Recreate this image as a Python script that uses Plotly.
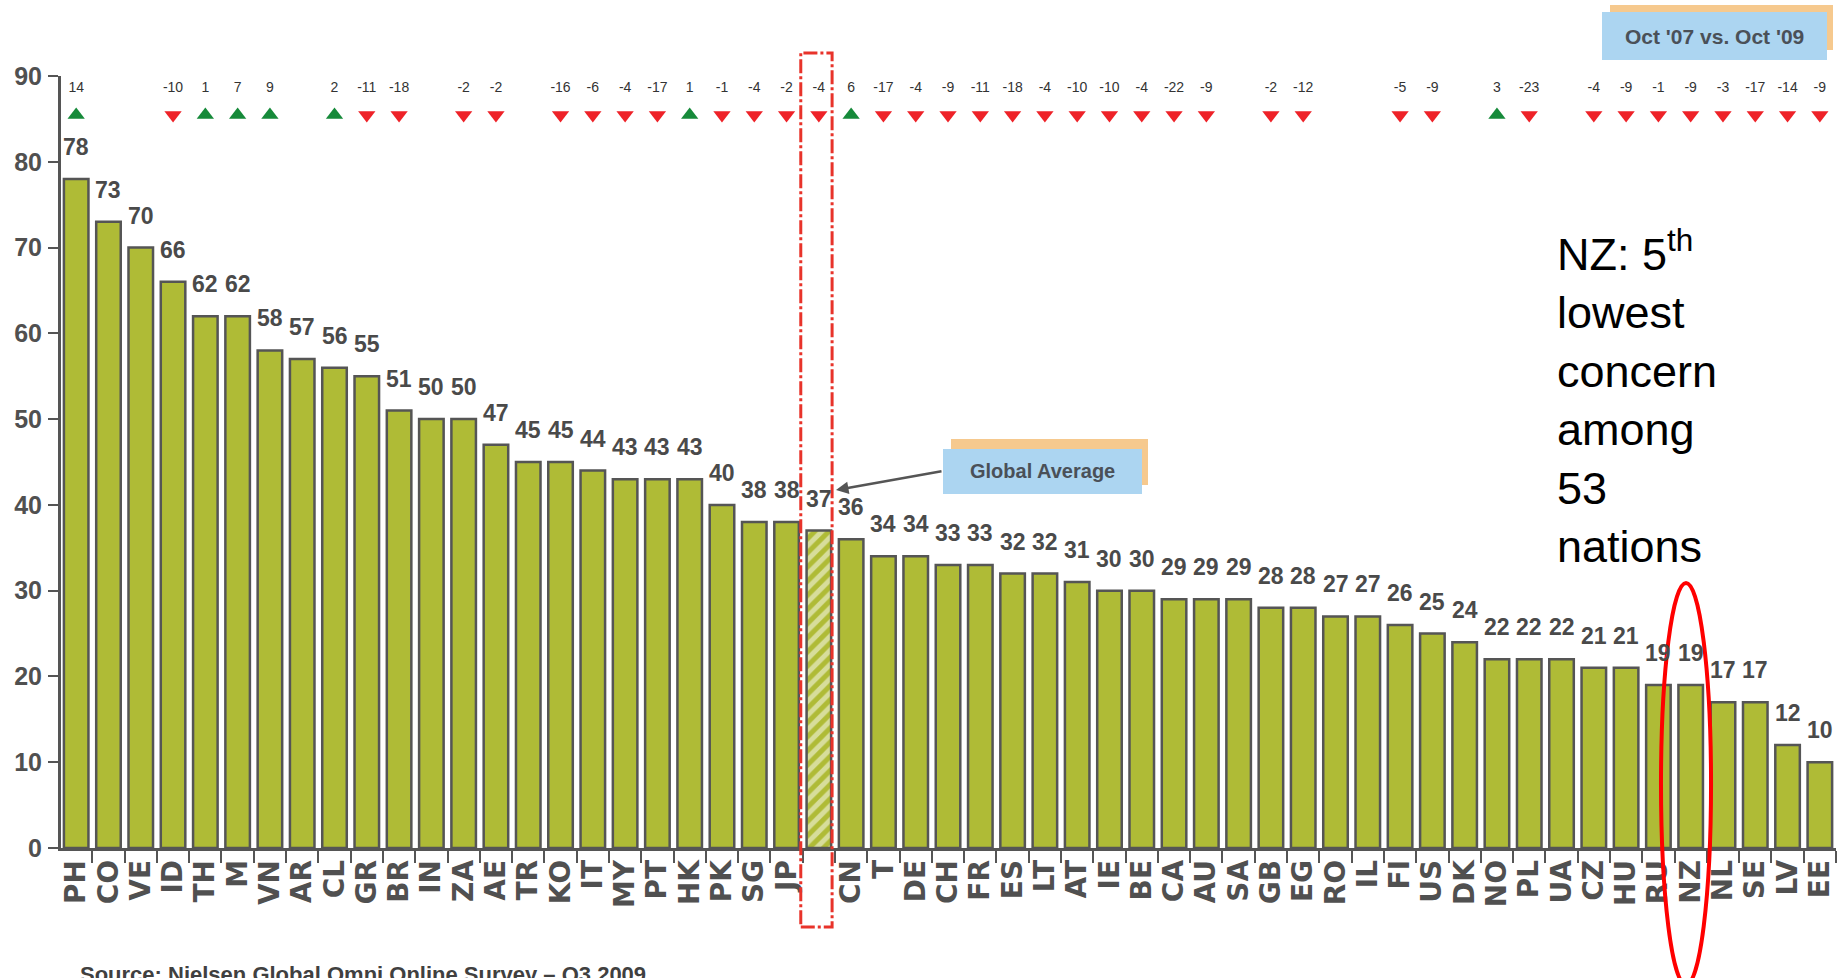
import plotly.graph_objects as go

# Countries ordered by share of respondents, global average inserted in its rank slot
countries = ["PH", "CO", "VE", "ID", "TH", "M", "VN", "AR", "CL", "GR", "BR", "IN", "ZA", "AE",
             "TR", "KO", "IT", "MY", "PT", "HK", "PK", "SG", "JP", "", "CN", "T", "DE", "CH",
             "FR", "ES", "LT", "AT", "IE", "BE", "CA", "AU", "SA", "GB", "EG", "RO", "IL", "FI",
             "US", "DK", "NO", "PL", "UA", "CZ", "HU", "RU", "NZ", "NL", "SE", "LV", "EE"]
values = [78, 73, 70, 66, 62, 62, 58, 57, 56, 55, 51, 50, 50, 47, 45, 45, 44, 43, 43, 43,
          40, 38, 38, 37, 36, 34, 34, 33, 33, 32, 32, 31, 30, 30, 29, 29, 29, 28, 28, 27,
          27, 26, 25, 24, 22, 22, 22, 21, 21, 19, 19, 17, 17, 12, 10]
# Change in points, Oct '07 vs. Oct '09 (None = not reported)
changes = [14, None, None, -10, 1, 7, 9, None, 2, -11, -18, None, -2, -2,
           None, -16, -6, -4, -17, 1, -1, -4, -2, -4, 6, -17, -4, -9,
           -11, -18, -4, -10, -10, -4, -22, -9, None, -2, -12, None, None, -5,
           -9, None, 3, -23, None, -4, -9, -1, -9, -3, -17, -14, -9]
yticks = [0, 10, 20, 30, 40, 50, 60, 70, 80, 90]

AVG_IDX = 23
NZ_IDX = countries.index("NZ")

W, H = 1843, 978
PL, PR, PT, PB = 61, 1836, 76, 848


def fx(px):
    return (px - PL) / (PR - PL)


def fy(py):
    return (PB - py) / (PB - PT)


BAR_GREEN = "#afbb36"
DARK = "#505050"
ARIAL = "Arial, Liberation Sans, sans-serif"
NARROW = "Liberation Sans Narrow, Arial Narrow, Liberation Sans, sans-serif"

idx = list(range(len(countries)))

fig = go.Figure()

fig.add_trace(go.Bar(
    x=idx, y=values,
    marker=dict(
        color=BAR_GREEN,
        line=dict(color="#555555", width=2.5),
        pattern=dict(
            shape=["/" if i == AVG_IDX else "" for i in idx],
            fgcolor="white", size=10, solidity=0.5,
        ),
    ),
    width=0.76,
    hoverinfo="skip",
    showlegend=False,
))

# Change indicators along the top row
ROW_MARK_Y = 85.45
ROW_TEXT_Y = 88.5
ci = [i for i, c in enumerate(changes) if c is not None]
cv = [changes[i] for i in ci]
fig.add_trace(go.Scatter(
    x=ci, y=[ROW_MARK_Y] * len(ci), mode="markers",
    marker=dict(
        symbol=["triangle-up" if c > 0 else "triangle-down" for c in cv],
        color=["#168a3a" if c > 0 else "#ee2228" for c in cv],
        size=15, line=dict(width=0),
    ),
    cliponaxis=False, hoverinfo="skip", showlegend=False,
))
fig.add_trace(go.Scatter(
    x=ci, y=[ROW_TEXT_Y] * len(ci), mode="text",
    text=[str(c) for c in cv], textposition="middle center",
    textfont=dict(family=NARROW, size=14, color="#333333"),
    cliponaxis=False, hoverinfo="skip", showlegend=False,
))

annotations = []
# Value labels above each bar
for i, v in zip(idx, values):
    annotations.append(dict(
        x=i, y=v, xref="x", yref="y", text=str(v), showarrow=False,
        xanchor="center", yanchor="bottom", yshift=17,
        font=dict(family=ARIAL, size=23, color="#4a4a4a", weight="bold"),
    ))

# Callout boxes
shapes = [
    dict(type="rect", xref="paper", yref="paper", x0=fx(1610), x1=fx(1833), y0=fy(50), y1=fy(5),
         fillcolor="#f6c98e", line=dict(width=0), layer="above"),
    dict(type="rect", xref="paper", yref="paper", x0=fx(1602), x1=fx(1827), y0=fy(60), y1=fy(12),
         fillcolor="#acd5f1", line=dict(width=0), layer="above"),
    dict(type="rect", xref="paper", yref="paper", x0=fx(951), x1=fx(1148), y0=fy(485), y1=fy(439),
         fillcolor="#f6c98e", line=dict(width=0), layer="above"),
    dict(type="rect", xref="paper", yref="paper", x0=fx(943), x1=fx(1142), y0=fy(494), y1=fy(449),
         fillcolor="#acd5f1", line=dict(width=0), layer="above"),
    # Frame around the global average column
    dict(type="rect", xref="x", yref="paper", x0=AVG_IDX - 0.56, x1=AVG_IDX + 0.41,
         y0=fy(927), y1=fy(53),
         line=dict(color="#e8332a", width=3, dash="14px,3px,3px,3px"), layer="above"),
    # Ring around New Zealand
    dict(type="circle", xref="x", yref="paper", x0=NZ_IDX - 0.92, x1=NZ_IDX + 0.63,
         y0=fy(985), y1=fy(583),
         line=dict(color="#ff0000", width=4), layer="above"),
]

annotations += [
    dict(x=fx(1714), y=fy(36), xref="paper", yref="paper", xanchor="center", yanchor="middle",
         text="Oct '07 vs. Oct '09", showarrow=False,
         font=dict(family=ARIAL, size=21, color="#4a5058", weight="bold")),
    dict(x=fx(1042), y=fy(471), xref="paper", yref="paper", xanchor="center", yanchor="middle",
         text="Global Average", showarrow=False,
         font=dict(family=ARIAL, size=20, color="#4a5058", weight="bold")),
    dict(x=fx(836), y=fy(490), xref="paper", yref="paper", text="", showarrow=True,
         ax=107, ay=-19, arrowhead=2, arrowsize=1, arrowwidth=2.5, arrowcolor="#555555",
         standoff=0, startstandoff=0),
    dict(x=fx(1555), y=fy(220), xref="paper", yref="paper", xanchor="left", yanchor="top",
         align="left", showarrow=False,
         text="NZ: 5<sup>th</sup><br>lowest<br>concern<br>among<br>53<br>nations",
         font=dict(family=ARIAL, size=45, color="#000000")),
    dict(x=fx(78), y=fy(960), xref="paper", yref="paper", xanchor="left", yanchor="top",
         showarrow=False, text="Source: Nielsen Global Omni Online Survey \u2013 Q3 2009",
         font=dict(family=ARIAL, size=22, color="#404040", weight="bold")),
]

fig.update_layout(
    width=W, height=H,
    margin=dict(l=PL, r=W - PR, t=PT, b=H - PB, pad=0),
    paper_bgcolor="white", plot_bgcolor="white",
    bargap=0.24,
    shapes=shapes,
    annotations=annotations,
    showlegend=False,
)

fig.update_xaxes(
    range=[-0.47, 54.5],
    tickmode="array", tickvals=idx, ticktext=countries,
    tickangle=-90, ticks="",
    tickfont=dict(family="DejaVu Sans", size=28, color=DARK, weight="bold"),
    ticklabelstandoff=-2,
    showline=True, linecolor="#555555", linewidth=2.5,
    showgrid=False, zeroline=False,
    minor=dict(tickmode="array", tickvals=[i - 0.5 for i in idx[1:]] + [54.5],
               ticks="outside", ticklen=12, tickwidth=2, tickcolor="#555555", showgrid=False),
)
fig.update_yaxes(
    range=[0, 90],
    tickmode="array", tickvals=yticks, ticktext=[str(t) for t in yticks],
    ticks="outside", ticklen=10, tickwidth=2, tickcolor="#555555",
    tickfont=dict(family=ARIAL, size=25, color=DARK, weight="bold"),
    ticklabelstandoff=1,
    showline=True, linecolor="#555555", linewidth=3,
    showgrid=False, zeroline=False,
)

fig.write_html("out.html")
